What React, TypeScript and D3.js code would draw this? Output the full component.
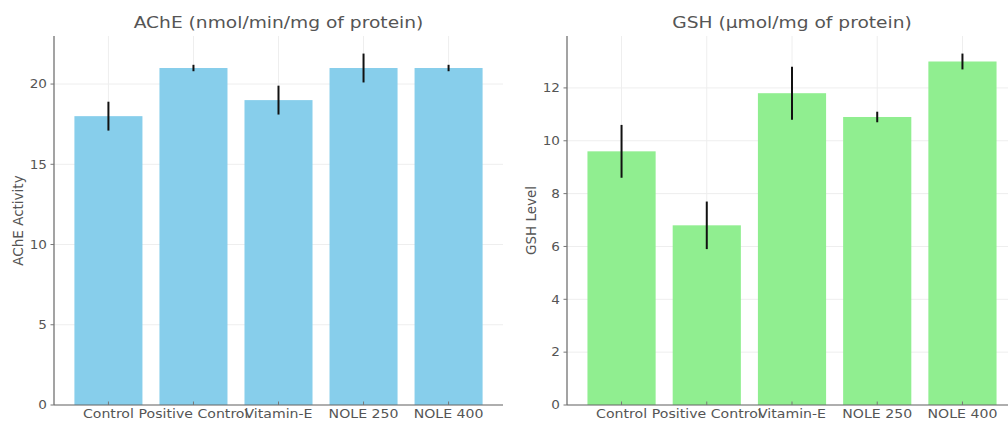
import React from "react";
import { scaleBand, scaleLinear, max } from "d3";

const groups = ["Control", "Positive Control", "Vitamin-E", "NOLE 250", "NOLE 400"];

const acheMeans = [18, 21, 19, 21, 21];
const acheErrors = [0.9, 0.2, 0.9, 0.9, 0.2];
const acheTicks = [0, 5, 10, 15, 20];

const gshMeans = [9.6, 6.8, 11.8, 10.9, 13.0];
const gshErrors = [1.0, 0.9, 1.0, 0.2, 0.3];
const gshTicks = [0, 2, 4, 6, 8, 10, 12];

const FONT = "DejaVu Sans, sans-serif";
const TOP = 36;
const BOTTOM = 405;
const SX = 1.13; // the reference text is a bit wider than tall

type Txt = {
  x: number;
  y: number;
  size: number;
  anchor?: string;
  dy?: string;
  children: React.ReactNode;
};

const Wide = ({ x, y, size, anchor = "middle", dy = "0", children }: Txt) => (
  <text
    transform={`translate(${x},${y}) scale(${SX},1)`}
    textAnchor={anchor}
    dy={dy}
    fontFamily={FONT}
    fontSize={size}
    fill="#555"
  >
    {children}
  </text>
);

type PanelProps = {
  left: number;
  right: number;
  title: string;
  yLabel: string;
  means: number[];
  errors: number[];
  ticks: number[];
  color: string;
};

const Panel = ({ left, right, title, yLabel, means, errors, ticks, color }: PanelProps) => {
  const x = scaleBand<string>()
    .domain(groups)
    .range([left, right])
    .paddingInner(0.2)
    .paddingOuter(0.24);

  const yMax = (max(means.map((m, i) => m + errors[i])) as number) * 1.05;
  const y = scaleLinear().domain([0, yMax]).range([BOTTOM, TOP]);
  const bw = x.bandwidth();
  const cx = (g: string) => (x(g) as number) + bw / 2;

  return (
    <g>
      {/* grid */}
      {ticks.map((t) => (
        <line key={"gy" + t} x1={left} x2={right} y1={y(t)} y2={y(t)} stroke="#eeeeee" strokeWidth={1} />
      ))}
      {groups.map((g) => (
        <line key={"gx" + g} x1={cx(g)} x2={cx(g)} y1={TOP} y2={BOTTOM} stroke="#eeeeee" strokeWidth={1} />
      ))}

      {/* bars */}
      {groups.map((g, i) => (
        <rect
          key={"b" + g}
          x={x(g) as number}
          y={y(means[i])}
          width={bw}
          height={BOTTOM - y(means[i])}
          fill={color}
        />
      ))}

      {/* error bars */}
      {groups.map((g, i) => (
        <line
          key={"e" + g}
          x1={cx(g)}
          x2={cx(g)}
          y1={y(means[i] + errors[i])}
          y2={y(means[i] - errors[i])}
          stroke="#111"
          strokeWidth={2}
        />
      ))}

      {/* spines */}
      <line x1={left} x2={left} y1={TOP} y2={BOTTOM} stroke="#666" strokeWidth={1.2} />
      <line x1={left} x2={right} y1={BOTTOM} y2={BOTTOM} stroke="#666" strokeWidth={1.2} />

      {/* y ticks */}
      {ticks.map((t) => (
        <g key={"ty" + t}>
          <line x1={left - 3.5} x2={left} y1={y(t)} y2={y(t)} stroke="#777" strokeWidth={1} />
          <Wide x={left - 7} y={y(t)} size={12} anchor="end" dy="0.36em">
            {t}
          </Wide>
        </g>
      ))}

      {/* x ticks */}
      {groups.map((g) => (
        <g key={"tx" + g}>
          <line x1={cx(g)} x2={cx(g)} y1={BOTTOM - 3.5} y2={BOTTOM} stroke="#777" strokeWidth={1} />
          <Wide x={cx(g)} y={BOTTOM + 13} size={12.5}>
            {g}
          </Wide>
        </g>
      ))}

      {/* y label */}
      <text
        transform={`translate(${left - 36},${(TOP + BOTTOM) / 2}) rotate(-90)`}
        textAnchor="middle"
        dy="0.35em"
        fontFamily={FONT}
        fontSize={13.5}
        fill="#555"
      >
        {yLabel}
      </text>

      {/* title */}
      <Wide x={(left + right) / 2} y={TOP - 14} size={16.5} dy="0.35em">
        {title}
      </Wide>
    </g>
  );
};

export default function App() {
  return (
    <svg
      width={1008}
      height={421}
      style={{ position: "absolute", left: 0, top: 0, background: "#fff" }}
    >
      <rect width={1008} height={421} fill="#fff" />
      <Panel
        left={54}
        right={503}
        title="AChE (nmol/min/mg of protein)"
        yLabel="AChE Activity"
        means={acheMeans}
        errors={acheErrors}
        ticks={acheTicks}
        color="#87ceeb"
      />
      <Panel
        left={567}
        right={1017}
        title="GSH (µmol/mg of protein)"
        yLabel="GSH Level"
        means={gshMeans}
        errors={gshErrors}
        ticks={gshTicks}
        color="#90ee90"
      />
    </svg>
  );
}
